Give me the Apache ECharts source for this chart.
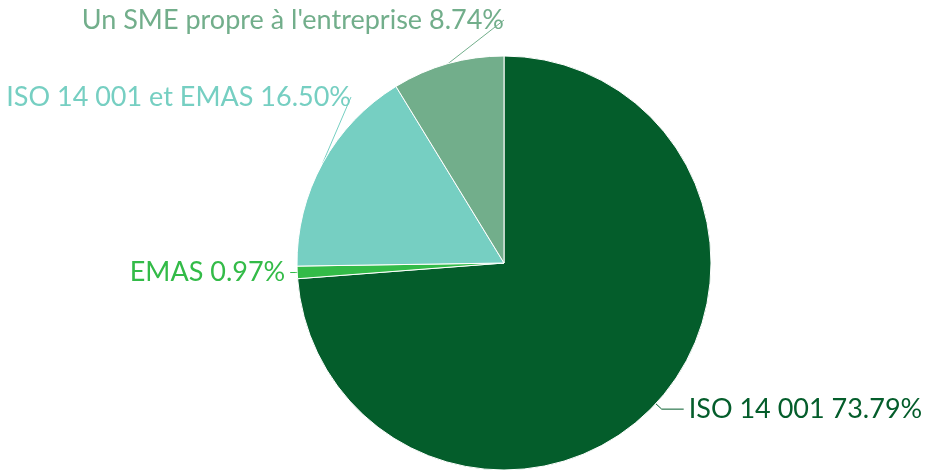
<!DOCTYPE html>
<html>
<head>
<meta charset="utf-8">
<script src="https://cdn.jsdelivr.net/npm/echarts@6/dist/echarts.min.js"></script>
<style>
    html, body { margin: 0; padding: 0; background: #fff; }
    #chart { width: 925px; height: 471px; }
</style>
</head>
<body>
<div id="chart"></div>
<script>
const categories = ['ISO 14 001', 'EMAS', 'ISO 14 001 et EMAS', 'Un SME propre à l\'entreprise'];
const shares = [73.79, 0.97, 16.50, 8.74];
const colors = ['#045d2b', '#33bb48', '#76cfc2', '#72ae8b'];

// longueur des traits de rappel, par part
const lineLengths = [[8, 22], [2, 5], [20, 18], [15, 40]];
// étiquettes remontées comme dans l'original (bord droit, milieu)
const labelAnchors = [null, null, [351, 97], [504, 20]];

let chart = echarts.init(document.getElementById('chart'));

let data = categories.map((name, i) => ({
    name: name,
    value: shares[i],
    itemStyle: { color: colors[i] },
    label: { color: colors[i] },
    labelLine: {
        length: lineLengths[i][0],
        length2: lineLengths[i][1],
        lineStyle: { color: colors[i] }
    }
}));

let option = {
    animation: false,
    series: [
        {
            type: 'pie',
            center: [504, 263],
            radius: 207,
            startAngle: 90,
            clockwise: true,
            itemStyle: {
                borderColor: '#fff',
                borderWidth: 1
            },
            label: {
                show: true,
                position: 'outside',
                fontFamily: 'Lato',
                fontSize: 27,
                overflow: 'none',
                formatter: (p) => `${p.name} ${p.value.toFixed(2)}%`
            },
            labelLine: {
                show: true,
                lineStyle: { width: 1 }
            },
            labelLayout: (params) => {
                let a = labelAnchors[params.dataIndex];
                if (!a) {
                    return {};
                }
                return { x: a[0], y: a[1], align: 'right', verticalAlign: 'middle' };
            },
            data: data
        }
    ]
};

chart.setOption(option);
</script>
</body>
</html>
